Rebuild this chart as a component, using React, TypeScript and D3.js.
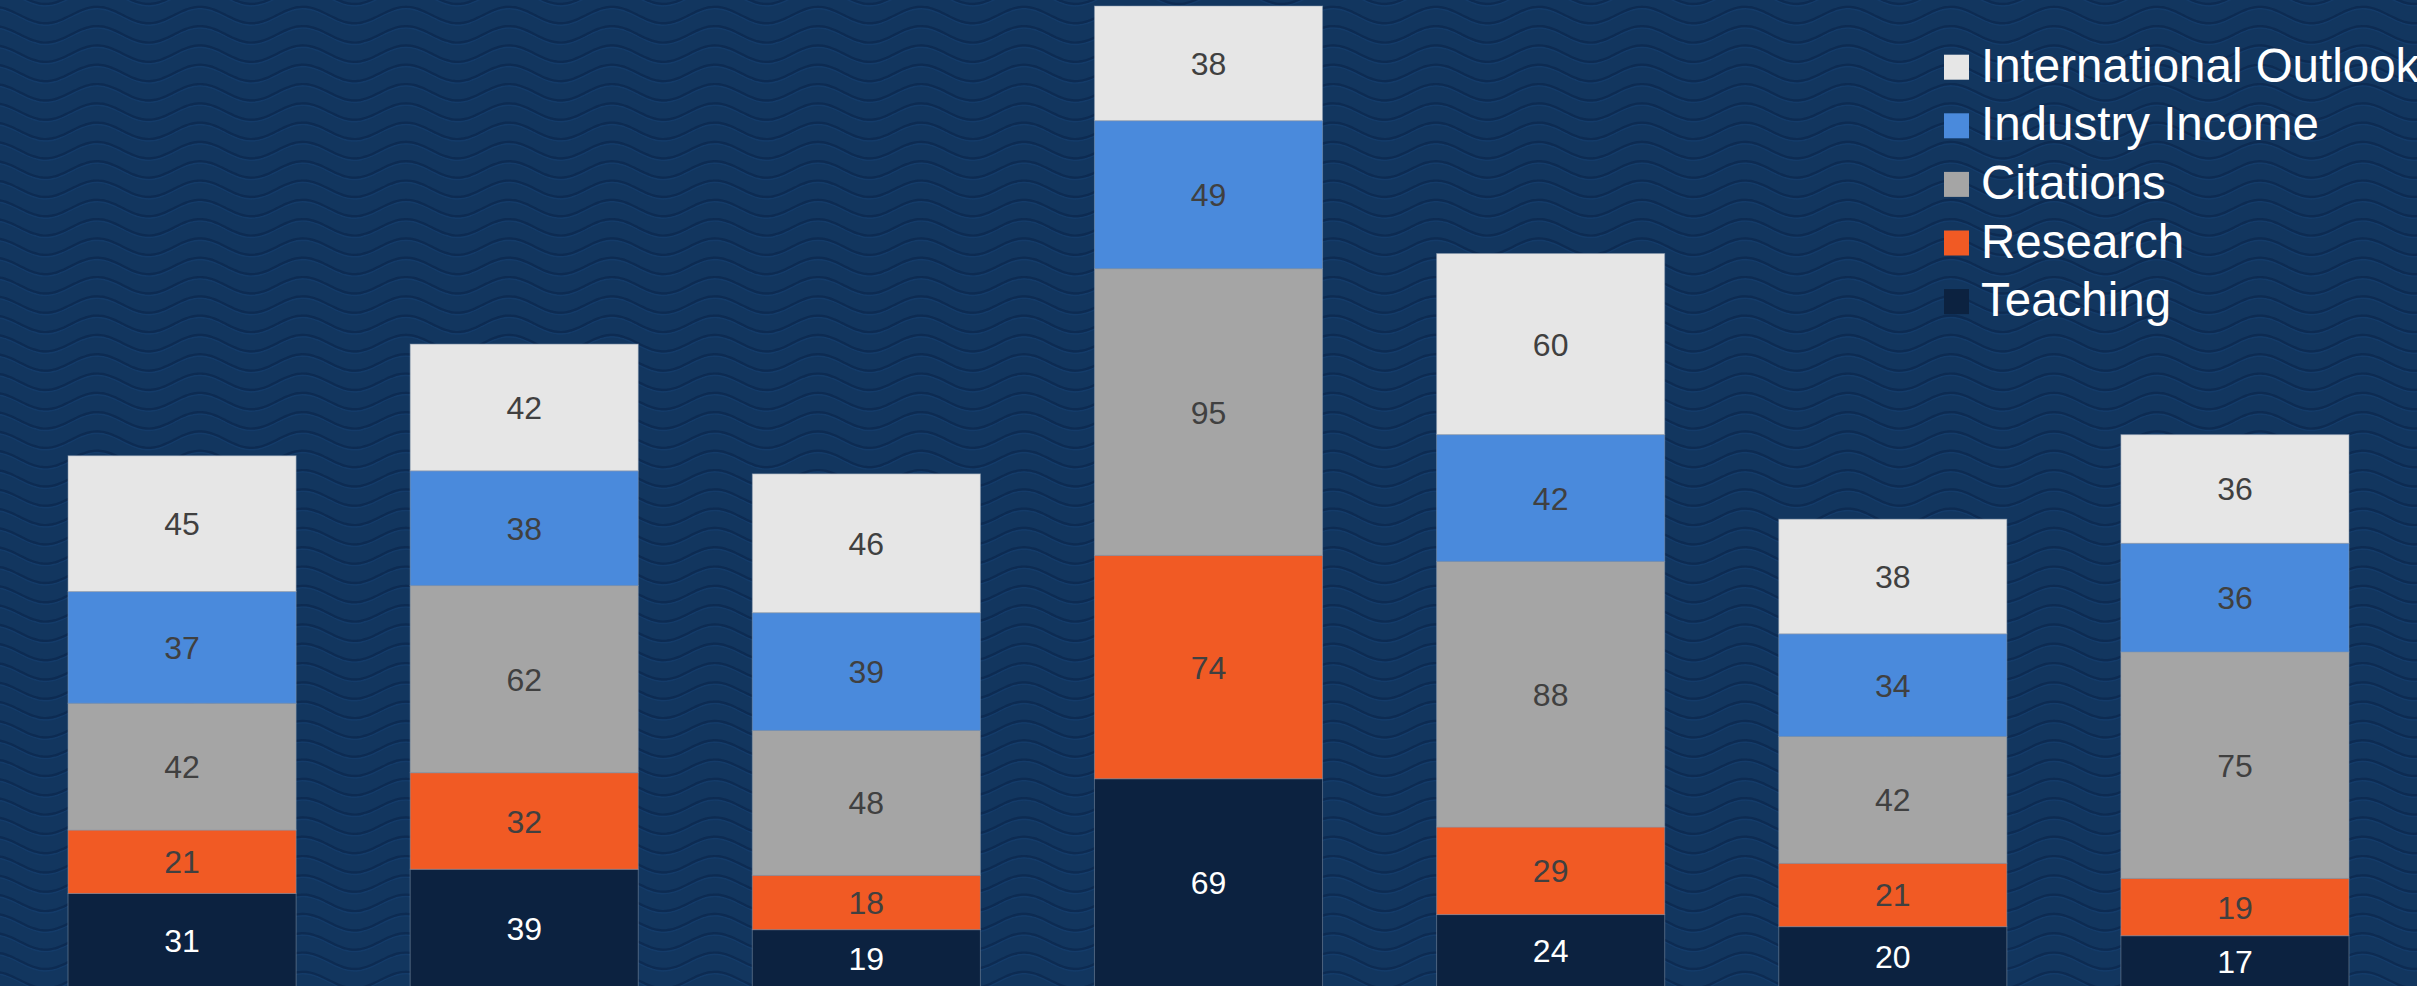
import React, { useEffect } from 'react'
import * as d3 from 'd3'

const WIDTH = 2417
const HEIGHT = 986

// categories (x labels are not shown in the picture)
const CATEGORIES = ['U1', 'U2', 'U3', 'U4', 'U5', 'U6', 'U7']

// series, bottom to top in the stack
const TEACHING = [31, 39, 19, 69, 24, 20, 17]
const RESEARCH = [21, 32, 18, 74, 29, 21, 19]
const CITATIONS = [42, 62, 48, 95, 88, 42, 75]
const INDUSTRY = [37, 38, 39, 49, 42, 34, 36]
const INTERNATIONAL = [45, 42, 46, 38, 60, 38, 36]

const SERIES = [
  { key: 'teaching', label: 'Teaching', values: TEACHING, color: '#0c2240', text: '#ffffff' },
  { key: 'research', label: 'Research', values: RESEARCH, color: '#f15a24', text: '#404040' },
  { key: 'citations', label: 'Citations', values: CITATIONS, color: '#a5a5a5', text: '#404040' },
  { key: 'industry', label: 'Industry Income', values: INDUSTRY, color: '#4a8adc', text: '#404040' },
  { key: 'international', label: 'International Outlook', values: INTERNATIONAL, color: '#e6e6e6', text: '#404040' },
]

const FONT = '"Liberation Sans", Arial, Helvetica, sans-serif'

export default function App() {
  useEffect(() => {
    document.body.style.margin = '0'
    document.body.style.background = '#12365f'
  }, [])

  const rows = CATEGORIES.map((c, i) => {
    const r: Record<string, number | string> = { cat: c }
    SERIES.forEach(s => { r[s.key] = s.values[i] })
    return r
  })
  const stacked = d3.stack<Record<string, number | string>>()
    .keys(SERIES.map(s => s.key))
    .value((d, k) => d[k] as number)(rows)

  const x = d3.scaleBand<string>().domain(CATEGORIES).range([11, 2406])
    .paddingInner(1 / 3).paddingOuter(1 / 6)
  const y = d3.scaleLinear().domain([0, 325]).range([987, 6])

  // ── background waves (decoration) ───────────────────────────────────────────
  const period = 103
  const amp = 8.3
  const gap = 19.3
  const wave = d3.line<[number, number]>().curve(d3.curveBasis)
  const waves: string[] = []
  for (let k = -1; k * gap < HEIGHT + 20; k++) {
    const base = 15 + k * gap
    const pts: [number, number][] = []
    for (let px = -10; px <= WIDTH + 10; px += 4) {
      pts.push([px, base - amp * Math.cos((2 * Math.PI * (px - 97)) / period)])
    }
    waves.push(wave(pts) as string)
  }

  return (
    <svg width={WIDTH} height={HEIGHT} style={{ display: 'block' }} fontFamily={FONT}>
      <rect width={WIDTH} height={HEIGHT} fill="#12365f" />
      <g fill="none">
        {waves.map((d, i) => (
          <g key={i}>
            <path d={d} stroke="#16406f" strokeWidth={1.5} transform="translate(0,2)" opacity={0.6} />
            <path d={d} stroke="#0d2b52" strokeWidth={2.2} />
          </g>
        ))}
      </g>

      {/* ── stacked bars ── */}
      {stacked.map((layer, si) => (
        <g key={layer.key}>
          {layer.map((d, i) => {
            const cat = CATEGORIES[i]
            const x0 = x(cat) as number
            const y0 = y(d[1])
            const h = y(d[0]) - y(d[1])
            return (
              <g key={cat}>
                <rect x={x0} y={y0} width={x.bandwidth()} height={h}
                  fill={SERIES[si].color} stroke="#8c9bb0" strokeOpacity={0.5} strokeWidth={1} />
                <text x={x0 + x.bandwidth() / 2} y={y0 + h / 2} dy="0.36em"
                  textAnchor="middle" fontSize={32} fill={SERIES[si].text}>
                  {SERIES[si].values[i]}
                </text>
              </g>
            )
          })}
        </g>
      ))}

      {/* ── legend ── */}
      {SERIES.slice().reverse().map((s, i) => {
        const by = 81.7 + i * 58.6
        return (
          <g key={s.key}>
            <rect x={1944} y={by - 27} width={25} height={25} fill={s.color} />
            <text x={1981} y={by} fontSize={47.5} fill="#ffffff">{s.label}</text>
          </g>
        )
      })}
    </svg>
  )
}
